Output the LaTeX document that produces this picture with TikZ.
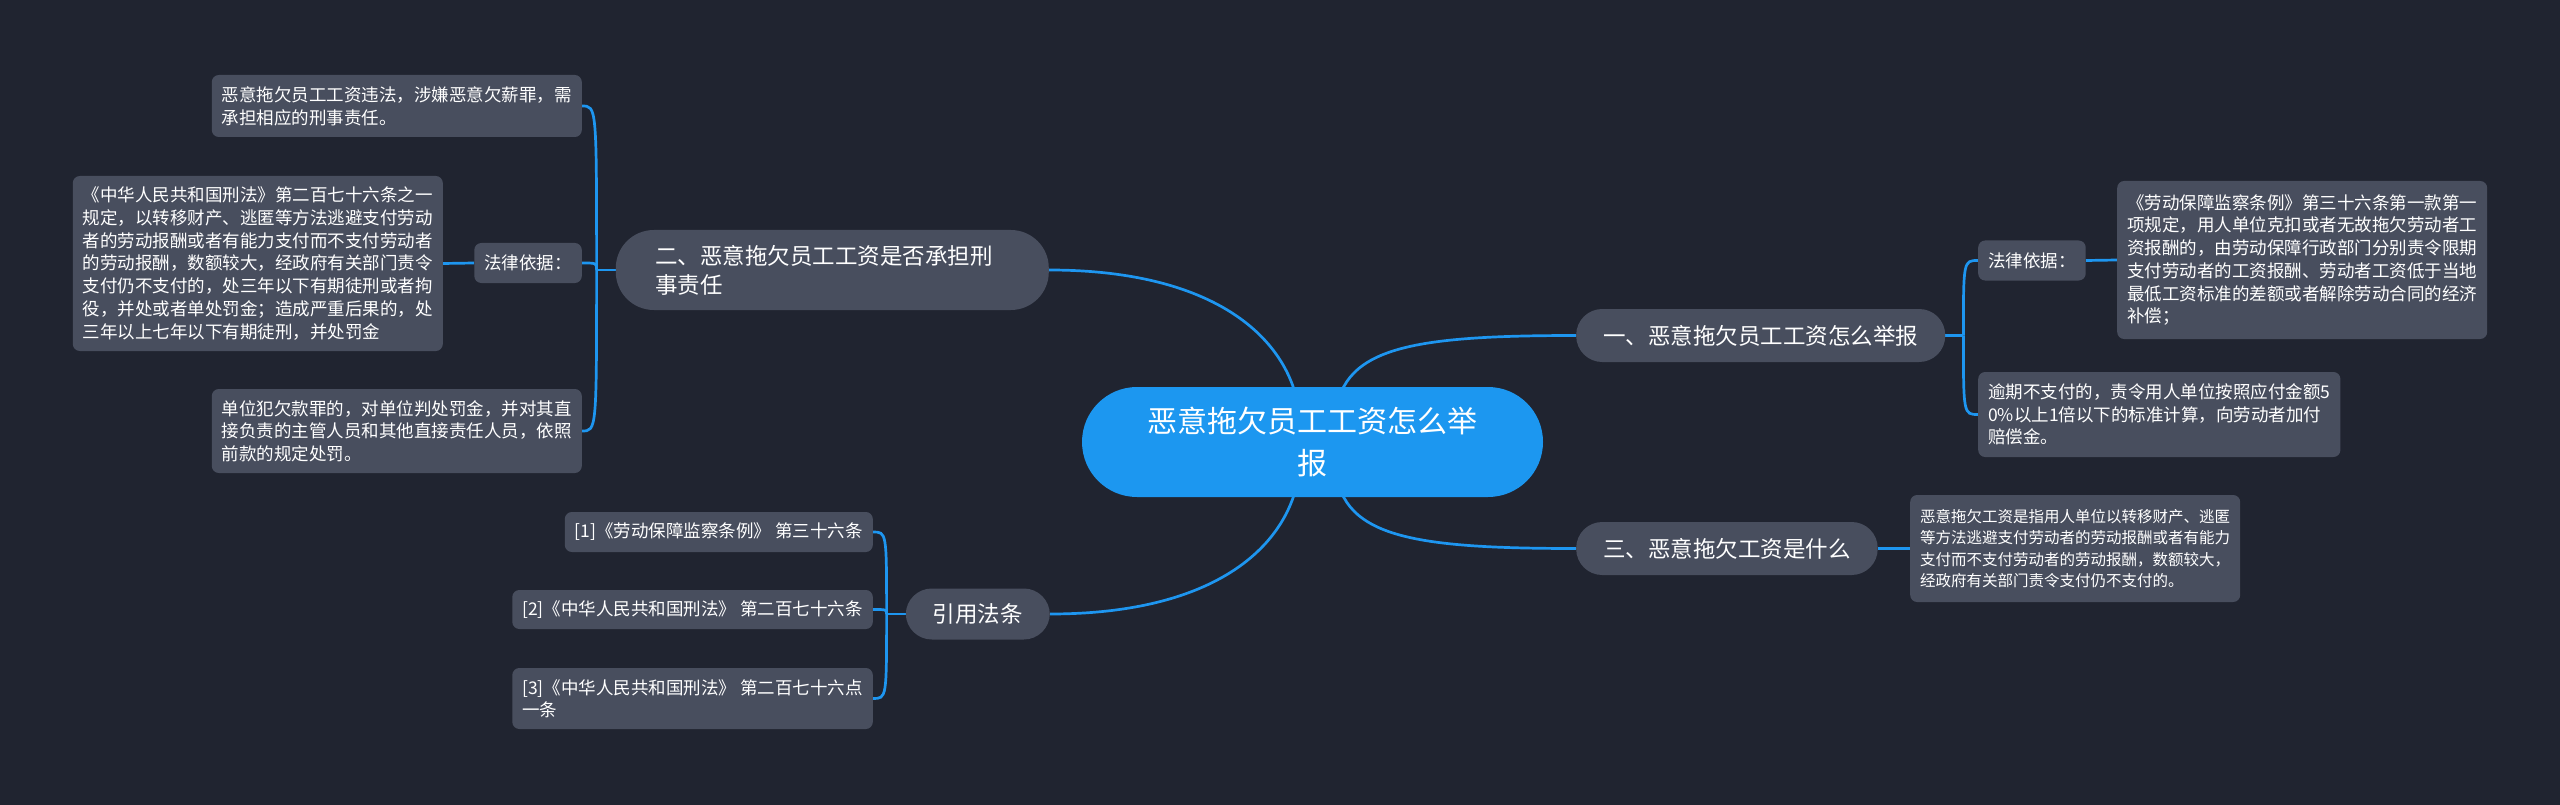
\documentclass[tikz,border=0pt]{standalone}
\usepackage{fontspec}
\newfontfamily\cjk{Noto Sans CJK SC}
\usetikzlibrary{calc}
\pgfdeclarelayer{bg}
\pgfdeclarelayer{edges}
\pgfsetlayers{bg,edges,main}
\definecolor{bgc}{RGB}{32,36,48}
\definecolor{nodec}{RGB}{72,78,94}
\definecolor{linec}{RGB}{30,150,240}
\definecolor{rootc}{RGB}{28,151,240}
\begin{document}
\begin{tikzpicture}[x=1pt,y=-1pt,
  leaf/.style={fill=nodec, rounded corners=7pt, text=white,
    font={\cjk\fontsize{17.5}{22.7}\selectfont}, align=left,
    inner xsep=10pt, inner ysep=8pt},
  reff/.style={leaf, font={\cjk\fontsize{17.5}{22}\selectfont}},
  topic/.style={fill=nodec, rounded corners=26pt, text=white,
    font={\cjk\fontsize{22.5}{29}\selectfont}, align=left,
    inner xsep=27pt, minimum height=53pt},
  rootn/.style={fill=rootc, rounded corners=55pt, text=white,
    font={\cjk\fontsize{30}{42}\selectfont}, align=center,
    minimum width=461pt, minimum height=110pt},
  edge/.style={draw=linec, line width=2.7pt},
]
\useasboundingbox (0,0) rectangle (2560,805);
\begin{pgfonlayer}{bg}
\fill[bgc] (0,0) rectangle (2560,805);
\end{pgfonlayer}

% root
\node[rootn] (root) at (1312.5,442) {恶意拖欠员工工资怎么举\\报};

% topics
\node[topic, inner xsep=39.5pt, text width=354pt, minimum height=80pt, rounded corners=38pt, anchor=east] (n2) at (1049,270) {二、恶意拖欠员工工资是否承担刑\\事责任};
\node[topic, anchor=west] (n1) at (1576,335.5) {一、恶意拖欠员工工资怎么举报};
\node[topic, anchor=west] (n3) at (1576,548.5) {三、恶意拖欠工资是什么};
\node[topic, anchor=east, minimum height=51pt] (n4) at (1050,614) {引用法条};

% left branch
\node[leaf, anchor=east, minimum height=40pt] (L1) at (582,263) {法律依据：};
\node[leaf, anchor=east, minimum height=62pt] (LL1) at (582,106) {恶意拖欠员工工资违法，涉嫌恶意欠薪罪，需\\承担相应的刑事责任。};
\node[leaf, anchor=east, minimum height=175pt] (LL2) at (443,263.5) {《中华人民共和国刑法》第二百七十六条之一\\规定，以转移财产、逃匿等方法逃避支付劳动\\者的劳动报酬或者有能力支付而不支付劳动者\\的劳动报酬，数额较大，经政府有关部门责令\\支付仍不支付的，处三年以下有期徒刑或者拘\\役，并处或者单处罚金；造成严重后果的，处\\三年以上七年以下有期徒刑，并处罚金};
\node[leaf, anchor=east, minimum height=84pt] (LL3) at (582,431) {单位犯欠款罪的，对单位判处罚金，并对其直\\接负责的主管人员和其他直接责任人员，依照\\前款的规定处罚。};

% right branch
\node[leaf, anchor=west, minimum height=40pt] (R1) at (1978,260.5) {法律依据：};
\node[leaf, anchor=west, minimum height=158pt] (RL1) at (2117,260) {《劳动保障监察条例》第三十六条第一款第一\\项规定，用人单位克扣或者无故拖欠劳动者工\\资报酬的，由劳动保障行政部门分别责令限期\\支付劳动者的工资报酬、劳动者工资低于当地\\最低工资标准的差额或者解除劳动合同的经济\\补偿；};
\node[leaf, anchor=west, minimum height=85pt] (RL2) at (1978,414.5) {逾期不支付的，责令用人单位按照应付金额5\\0\%以上1倍以下的标准计算，向劳动者加付\\赔偿金。};
\node[leaf, anchor=west, minimum height=107pt, font={\cjk\fontsize{15.5}{21.5}\selectfont}] (RL3) at (1910,548.5) {恶意拖欠工资是指用人单位以转移财产、逃匿\\等方法逃避支付劳动者的劳动报酬或者有能力\\支付而不支付劳动者的劳动报酬，数额较大，\\经政府有关部门责令支付仍不支付的。};

% references
\node[reff, anchor=east, minimum height=40pt] (ref1) at (873,532) {[1]《劳动保障监察条例》 第三十六条};
\node[reff, anchor=east, minimum height=39pt] (ref2) at (873,609.5) {[2]《中华人民共和国刑法》 第二百七十六条};
\node[reff, anchor=east, minimum height=61pt] (ref3) at (873,698.5) {[3]《中华人民共和国刑法》 第二百七十六点\\一条};

% spine points
\coordinate (s2) at ($(n2.west)+(-19,0)$);
\coordinate (s1) at ($(n1.east)+(18,0)$);
\coordinate (s4) at ($(n4.west)+(-19,0)$);

\begin{pgfonlayer}{edges}
% root to topics
\draw[edge] (n2.east) .. controls +(180,0) and +(0,-80) .. ($(root.center)+(-12,-12)$);
\draw[edge] (n1.west) .. controls +(-180,0) and +(0,-80) .. ($(root.center)+(22,-12)$);
\draw[edge] (n3.west) .. controls +(-180,0) and +(0,80) .. ($(root.center)+(22,12)$);
\draw[edge] (n4.east) .. controls +(180,0) and +(0,80) .. ($(root.center)+(-12,12)$);
% left branch
\draw[edge] (n2.west) -- (s2);
\draw[edge] (s2) .. controls (s2 |- LL1.east) .. (LL1.east);
\draw[edge] (s2) .. controls (s2 |- L1.east) .. (L1.east);
\draw[edge] (s2) .. controls (s2 |- LL3.east) .. (LL3.east);
\draw[edge] (L1.west) -- (LL2.east);
% right branch
\draw[edge] (n1.east) -- (s1);
\draw[edge] (s1) .. controls (s1 |- R1.west) .. (R1.west);
\draw[edge] (s1) .. controls (s1 |- RL2.west) .. (RL2.west);
\draw[edge] (R1.east) -- (RL1.west);
\draw[edge] (n3.east) -- (RL3.west);
% references
\draw[edge] (n4.west) -- (s4);
\draw[edge] (s4) .. controls (s4 |- ref1.east) .. (ref1.east);
\draw[edge] (s4) .. controls (s4 |- ref2.east) .. (ref2.east);
\draw[edge] (s4) .. controls (s4 |- ref3.east) .. (ref3.east);
\end{pgfonlayer}
\end{tikzpicture}
\end{document}
